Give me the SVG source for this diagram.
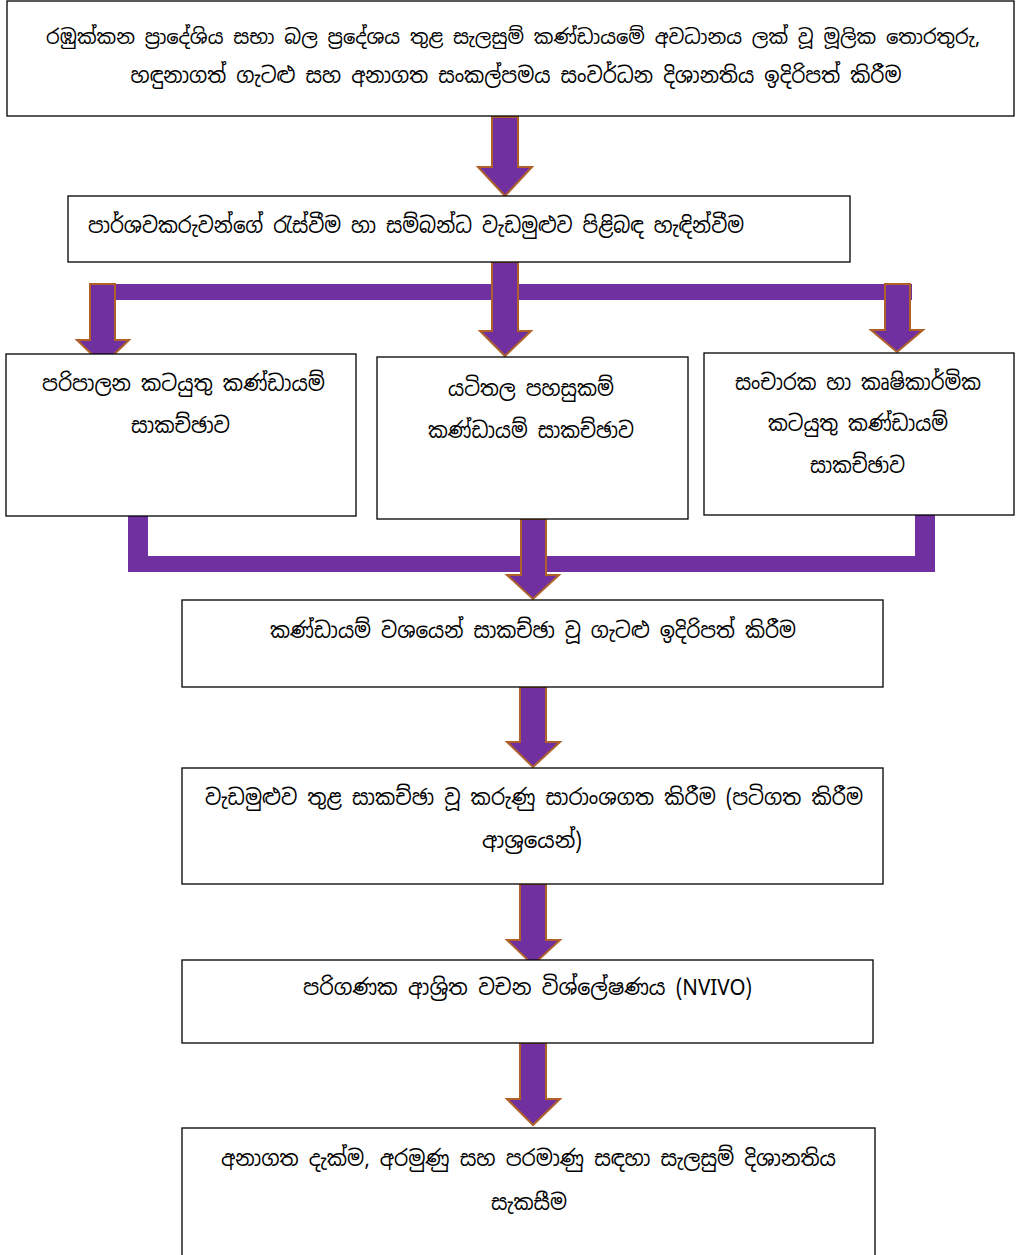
<svg xmlns="http://www.w3.org/2000/svg" width="1019" height="1255" viewBox="0 0 1019 1255">
<style>
.box{fill:#fff;stroke:#000;stroke-width:1.3}
.t{font-family:"Noto Sans Sinhala","Iskoola Pota","Noto Sans","DejaVu Sans",sans-serif;font-size:22px;fill:#000;text-anchor:middle}
.s{font-size:20px}
.bar{fill:#7030A0}
.arr{fill:#7030A0;stroke:#B0612A;stroke-width:2;stroke-linejoin:miter}
</style>
<rect width="1019" height="1255" fill="#fff"/>
<g id="connectors">
<rect class="bar" x="90" y="284" width="822" height="16"/>
<rect class="bar" x="128" y="516" width="20" height="56"/>
<rect class="bar" x="915" y="514" width="20" height="58"/>
<rect class="bar" x="128" y="556" width="807" height="16"/>
<polygon class="arr" points="492,117 518,117 518,167 532,167 505,196 478,167 492,167"/>
<polygon class="arr" points="492,262 518,262 518,331 531,331 505,356 480,331 492,331"/>
<polygon class="arr" points="90,284 115,284 115,340 129,340 103,365 77,340 90,340"/>
<polygon class="arr" points="885,284 910,284 910,330 923,330 897,352 871,330 885,330"/>
<polygon class="arr" points="521,519 546,519 546,575 559,575 533,599 507,575 521,575"/>
<polygon class="arr" points="520,687 546,687 546,742 560,742 533,767 507,742 520,742"/>
<polygon class="arr" points="520,884 546,884 546,940 560,940 533,965 507,940 520,940"/>
<polygon class="arr" points="520,1043 546,1043 546,1099 560,1099 533,1125 507,1099 520,1099"/>
</g>
<g id="n1">
<rect class="box" x="7" y="1" width="1007" height="115"/>
<text class="t s" x="513" y="44" textLength="934" lengthAdjust="spacingAndGlyphs">රඹුක්කන ප්‍රාදේශිය සභා බල ප්‍රදේශය තුළ සැලසුම් කණ්ඩායමේ අවධානය ලක් වූ මූලික තොරතුරු,</text>
<text class="t" x="516" y="83" textLength="771" lengthAdjust="spacingAndGlyphs">හඳුනාගත් ගැටළු සහ අනාගත සංකල්පමය සංවර්ධන දිශානතිය ඉදිරිපත් කිරීම</text>
</g>
<g id="n2">
<rect class="box" x="68" y="196" width="782" height="66"/>
<text class="t" x="416" y="233" textLength="656" lengthAdjust="spacingAndGlyphs">පාර්ශවකරුවන්ගේ රැස්වීම හා සම්බන්ධ වැඩමුළුව පිළිබඳ හැඳින්වීම</text>
</g>
<g id="n3">
<rect class="box" x="6" y="354" width="350" height="162"/>
<text class="t" x="183.5" y="391" textLength="283" lengthAdjust="spacingAndGlyphs">පරිපාලන කටයුතු කණ්ඩායම්</text>
<text class="t" x="180.5" y="433" textLength="99" lengthAdjust="spacingAndGlyphs">සාකච්ඡාව</text>
</g>
<g id="n4">
<rect class="box" x="377" y="357" width="311" height="162"/>
<text class="t" x="531" y="396" textLength="166" lengthAdjust="spacingAndGlyphs">යටිතල පහසුකම්</text>
<text class="t" x="531" y="438" textLength="206" lengthAdjust="spacingAndGlyphs">කණ්ඩායම් සාකච්ඡාව</text>
</g>
<g id="n5">
<rect class="box" x="704" y="353" width="310" height="162"/>
<text class="t" x="858" y="390" textLength="246" lengthAdjust="spacingAndGlyphs">සංචාරක හා කෘෂිකාර්මික</text>
<text class="t" x="858" y="431" textLength="180" lengthAdjust="spacingAndGlyphs">කටයුතු කණ්ඩායම්</text>
<text class="t" x="857.5" y="473" textLength="95" lengthAdjust="spacingAndGlyphs">සාකච්ඡාව</text>
</g>
<g id="n6">
<rect class="box" x="182" y="600" width="701" height="87"/>
<text class="t" x="533" y="638" textLength="526" lengthAdjust="spacingAndGlyphs">කණ්ඩායම් වශයෙන් සාකච්ඡා වූ ගැටළු ඉදිරිපත් කිරීම</text>
</g>
<g id="n7">
<rect class="box" x="182" y="768" width="701" height="116"/>
<text class="t" x="534" y="805" textLength="658" lengthAdjust="spacingAndGlyphs">වැඩමුළුව තුළ සාකච්ඡා වූ කරුණු සාරාංශගත කිරීම (පටිගත කිරීම</text>
<text class="t" x="532" y="848" textLength="100" lengthAdjust="spacingAndGlyphs">ආශ්‍රයෙන්)</text>
</g>
<g id="n8">
<rect class="box" x="182" y="960" width="691" height="83"/>
<text class="t" x="527.5" y="995" textLength="449" lengthAdjust="spacingAndGlyphs">පරිගණක ආශ්‍රිත වචන විශ්ලේෂණය (NVIVO)</text>
</g>
<g id="n9">
<rect class="box" x="182" y="1128" width="693" height="140"/>
<text class="t" x="528.5" y="1166" textLength="615" lengthAdjust="spacingAndGlyphs">අනාගත දැක්ම, අරමුණු සහ පරමාණු සඳහා සැලසුම් දිශානතිය</text>
<text class="t" x="529" y="1210" textLength="76" lengthAdjust="spacingAndGlyphs">සැකසීම</text>
</g>
</svg>
